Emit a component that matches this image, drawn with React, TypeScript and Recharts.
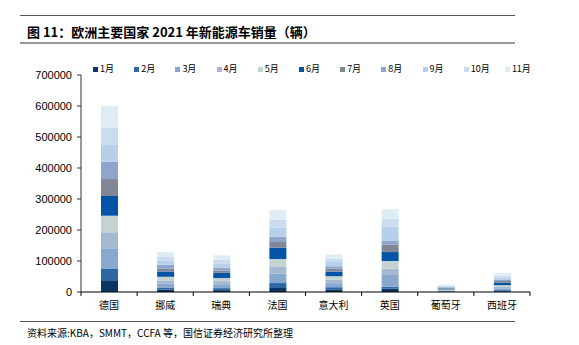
import React from 'react';
import { BarChart, Bar, XAxis, YAxis } from 'recharts';

const countries = ['德国', '挪威', '瑞典', '法国', '意大利', '英国', '葡萄牙', '西班牙'];
const months = ['1月', '2月', '3月', '4月', '5月', '6月', '7月', '8月', '9月', '10月', '11月'];
const colors = ['#0d3561', '#2f67a3', '#87a9cf', '#a5b8cf', '#c3d3d2', '#0353a6', '#808796', '#8ea6cc', '#b7d0ea', '#cbdcf0', '#deecf3'];

// values per month, in country order
const jan = [35500, 8000, 6000, 12900, 7000, 10700, 1200, 2500];
const feb = [38700, 6500, 6500, 16000, 8500, 6500, 1100, 3500];
const mar = [66800, 13000, 12500, 30000, 13000, 37600, 1800, 6000];
const apr = [51600, 9700, 10000, 23700, 11000, 20400, 2000, 4700];
const may = [53500, 12000, 10000, 23700, 11500, 24700, 2300, 5300];
const jun = [63500, 17000, 17000, 36600, 15000, 29000, 2800, 7500];
const jul = [54800, 8500, 7500, 18300, 10000, 23700, 2500, 6000];
const aug = [55800, 13000, 9000, 17200, 7000, 11800, 1900, 3500];
const sep = [53900, 14000, 14000, 29000, 14000, 46000, 2800, 7000];
const oct = [55800, 13000, 12000, 25800, 11000, 24700, 2600, 6500];
const nov = [70000, 14000, 14000, 31000, 13000, 32000, 3000, 8500];

const series = [jan, feb, mar, apr, may, jun, jul, aug, sep, oct, nov];
const yTicks = [0, 100000, 200000, 300000, 400000, 500000, 600000, 700000];

const data = countries.map((name, i) => {
  const row: Record<string, string | number> = { name };
  months.forEach((m, k) => {
    row[m] = series[k][i];
  });
  return row;
});

const cjk = '"Noto Sans CJK SC", sans-serif';
const X_TICK_SIZE = 4;
const X_TICK_MARGIN = 6;

const CategoryTick = (props: any) => {
  const { x, y, payload, index, visibleTicksCount } = props;
  const half = payload && payload.offset ? payload.offset : 0;
  const axisY = y - X_TICK_SIZE - X_TICK_MARGIN;
  const isLast = index === (visibleTicksCount ?? countries.length) - 1;
  return (
    <g>
      <line x1={x - half} x2={x - half} y1={axisY} y2={axisY + X_TICK_SIZE} stroke="#000" />
      {isLast && <line x1={x + half} x2={x + half} y1={axisY} y2={axisY + X_TICK_SIZE} stroke="#000" />}
      <text x={x} y={y} dy="0.71em" textAnchor="middle" fontSize={10} fill="#000" fontFamily={cjk}>
        {payload.value}
      </text>
    </g>
  );
};

export default function App() {
  return (
    <div style={{ position: 'absolute', left: 0, top: 0, width: 579, height: 345, background: '#fff' }}>
      <div style={{ position: 'absolute', left: 20, top: 15, width: 495, height: 1, background: '#555' }} />
      <div
        style={{
          position: 'absolute',
          left: 27,
          top: 23,
          fontFamily: cjk,
          fontWeight: 'bold',
          fontSize: 13,
          lineHeight: '18px',
          color: '#000',
          whiteSpace: 'nowrap',
        }}
      >
        图 11：欧洲主要国家 2021 年新能源车销量（辆）
      </div>
      <div style={{ position: 'absolute', left: 20, top: 42, width: 495, height: 2, background: '#999' }} />

      <div style={{ position: 'absolute', left: 93, top: 62, display: 'flex', fontFamily: cjk, fontSize: 9, lineHeight: '14px', color: '#000' }}>
        {months.map((m, k) => (
          <div key={m} style={{ width: 41.2, display: 'flex', alignItems: 'center' }}>
            <span style={{ display: 'inline-block', width: 5, height: 5, background: colors[k], marginRight: 2 }} />
            <span>{m}</span>
          </div>
        ))}
      </div>

      <div style={{ position: 'absolute', left: 0, top: 0 }}>
        <BarChart width={579} height={345} data={data} margin={{ top: 75, right: 49, bottom: 33, left: 9 }}>
          <XAxis
            dataKey="name"
            interval={0}
            tickLine={false}
            axisLine={{ stroke: '#000' }}
            tickSize={X_TICK_SIZE}
            tickMargin={X_TICK_MARGIN}
            tick={<CategoryTick />}
            height={20}
          />
          <YAxis
            domain={[0, 700000]}
            ticks={yTicks}
            interval={0}
            width={72}
            axisLine={{ stroke: '#333' }}
            tickLine={{ stroke: '#333' }}
            tickSize={4}
            tickMargin={5}
            tick={{ fontSize: 11, fill: '#000', fontFamily: '"Liberation Sans", Arial, sans-serif' }}
          />
          {months.map((m, k) => (
            <Bar key={m} dataKey={m} stackId="a" fill={colors[k]} barSize={17} isAnimationActive={false} />
          ))}
        </BarChart>
      </div>

      <div style={{ position: 'absolute', left: 20, top: 321, width: 495, height: 1, background: '#555' }} />
      <div
        style={{
          position: 'absolute',
          left: 27,
          top: 326,
          fontFamily: cjk,
          fontSize: 10,
          lineHeight: '14px',
          color: '#000',
          whiteSpace: 'nowrap',
        }}
      >
        资料来源:KBA，SMMT，CCFA 等，国信证券经济研究所整理
      </div>
    </div>
  );
}
